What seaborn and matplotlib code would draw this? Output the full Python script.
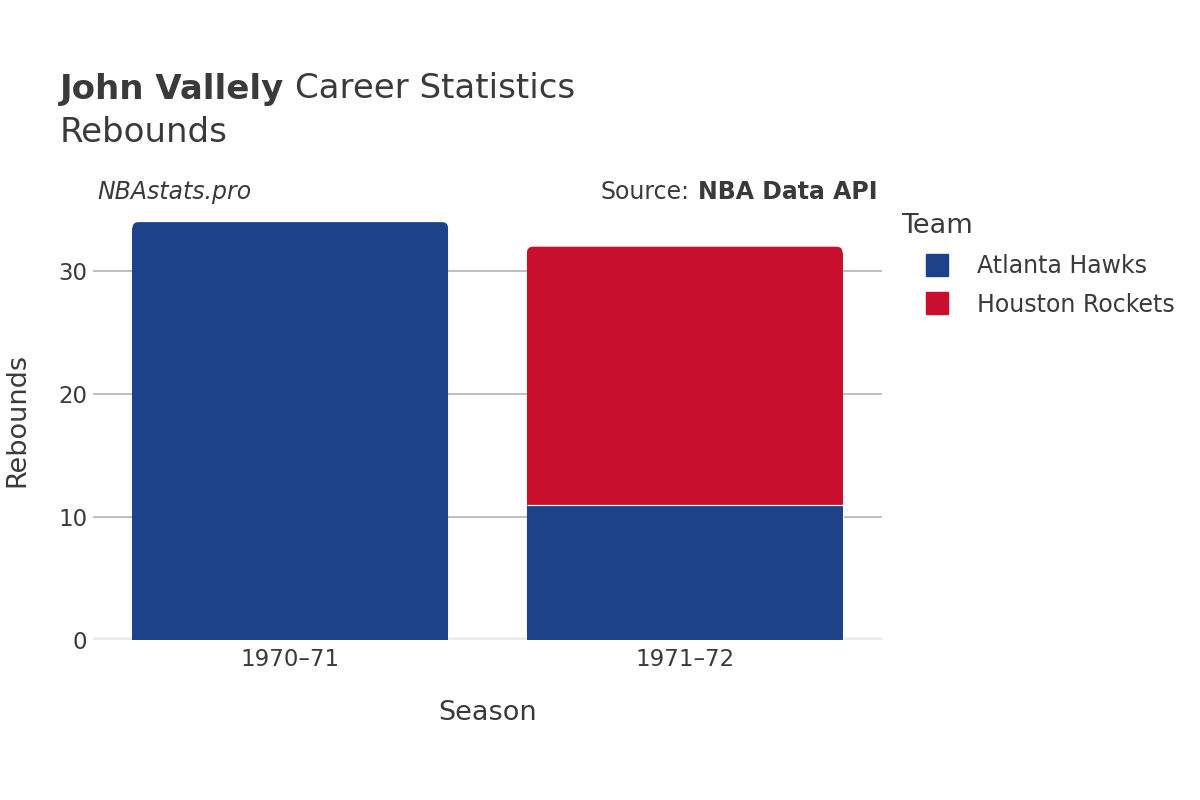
import pandas as pd
import seaborn as sns
import matplotlib.pyplot as plt
from matplotlib.patches import FancyBboxPatch
from matplotlib.lines import Line2D

# data
seasons = ["1970–71", "1971–72", "1971–72"]
teams = ["Atlanta Hawks", "Atlanta Hawks", "Houston Rockets"]
rebounds = [34, 11, 21]

season_order = ["1970–71", "1971–72"]
team_order = ["Atlanta Hawks", "Houston Rockets"]
team_colors = {"Atlanta Hawks": "#1d428a", "Houston Rockets": "#c8102e"}

df = pd.DataFrame({"Season": seasons, "Team": teams, "Rebounds": rebounds})
# stack: cumulative height per season, in team order
df["Team"] = pd.Categorical(df["Team"], categories=team_order, ordered=True)
df = df.sort_values(["Season", "Team"])
df["cum"] = df.groupby("Season")["Rebounds"].cumsum()

sns.set_style("white")
plt.rcParams["font.family"] = ["DejaVu Sans"]
txt = "#3a3a3a"

fig = plt.figure(figsize=(12, 8), dpi=100)
ax = fig.add_axes([0.0775, 0.2, 0.6575, 0.55])

# tallest layer first, lower segments drawn over it
sns.barplot(data=df, x="Season", y="cum", hue="Team", order=season_order,
            hue_order=team_order[::-1], palette=team_colors, saturation=1,
            dodge=False, width=0.8, edgecolor="white", linewidth=0.8,
            legend=False, ax=ax, zorder=2)

ax.set_xlim(-0.5, 1.5)
ax.set_ylim(0, 35.8)

# round the top corners of the top segment in each column
px_x = 2.0 / 789.0
px_y = 35.8 / 440.0
tops = {}
for p in list(ax.patches):
    if p.get_height() <= 0:
        continue
    key = round(p.get_x() + p.get_width() / 2, 3)
    if key not in tops or p.get_height() > tops[key].get_height():
        tops[key] = p
for p in tops.values():
    x, w, h = p.get_x(), p.get_width(), p.get_height()
    fc = p.get_facecolor()
    p.set_visible(False)
    ax.add_patch(FancyBboxPatch((x, 0), w, h,
                                boxstyle=f"round,pad=0,rounding_size={6 * px_x}",
                                mutation_aspect=px_y / px_x,
                                facecolor=fc, edgecolor="none", linewidth=0,
                                zorder=2))
    ax.bar(x + w / 2, h - 0.5, width=w, color=fc, edgecolor="none",
           linewidth=0, zorder=2)

lower = df[df["cum"] < df.groupby("Season")["cum"].transform("max")]
for _, row in lower.iterrows():
    xi = season_order.index(row["Season"])
    ax.bar(xi, row["cum"], width=0.8, color=team_colors[row["Team"]],
           edgecolor="none", linewidth=0, zorder=4)
    ax.hlines(row["cum"], xi - 0.4, xi + 0.4, color="white", linewidth=0.9,
              zorder=5)

ax.set_yticks([0, 10, 20, 30])
ax.grid(axis="y", color="#b4b4b4", linewidth=1.2, zorder=0)
ax.grid(axis="x", visible=False)
ax.axhline(0, color="#ebebeb", linewidth=4, zorder=1)
for s in ax.spines.values():
    s.set_visible(False)
ax.tick_params(axis="both", length=0, labelsize=16.5, colors=txt)
ax.tick_params(axis="x", pad=6)
ax.tick_params(axis="y", pad=4)
ax.set_xlabel("Season", fontsize=19.5, color=txt, labelpad=21)
ax.set_ylabel("Rebounds", fontsize=19.5, color=txt, va="center")
ax.yaxis.set_label_coords(-(93 - 17) / 789, 0.5)

fig.canvas.draw()
r = fig.canvas.get_renderer()

# title: bold name followed by regular text
t1 = fig.text(60 / 1200, 1 - 89 / 800, "John Vallely", fontsize=24.5,
              fontweight="bold", color=txt, va="center")
bb = t1.get_window_extent(r)
fig.text((bb.x1 + 11) / 1200, 1 - 89 / 800, "Career Statistics", fontsize=24.5,
         color=txt, va="center")
fig.text(60 / 1200, 1 - 132 / 800, "Rebounds", fontsize=24.5, color=txt,
         va="center")

fig.text(97 / 1200, 1 - 192 / 800, "NBAstats.pro", fontsize=17, style="italic",
         color=txt, va="center")
t2 = fig.text(878 / 1200, 1 - 192 / 800, "NBA Data API", fontsize=17,
              fontweight="bold", color=txt, va="center", ha="right")
bb = t2.get_window_extent(r)
fig.text((bb.x0 - 9) / 1200, 1 - 192 / 800, "Source:", fontsize=17, color=txt,
         va="center", ha="right")

handles = [Line2D([0], [0], marker="s", linestyle="none", markersize=16,
                  markerfacecolor=team_colors[t], markeredgecolor=team_colors[t])
           for t in team_order]
leg = fig.legend(handles, team_order, loc="upper left",
                 bbox_to_anchor=(0.743, 0.745), frameon=False,
                 title="Team", fontsize=17, title_fontsize=19.5,
                 labelcolor=txt, handlelength=3.05, handletextpad=0.17,
                 labelspacing=0.62, borderaxespad=0)
leg.get_title().set_color(txt)
leg._legend_box.align = "left"

fig.savefig("out.png", dpi=100)
